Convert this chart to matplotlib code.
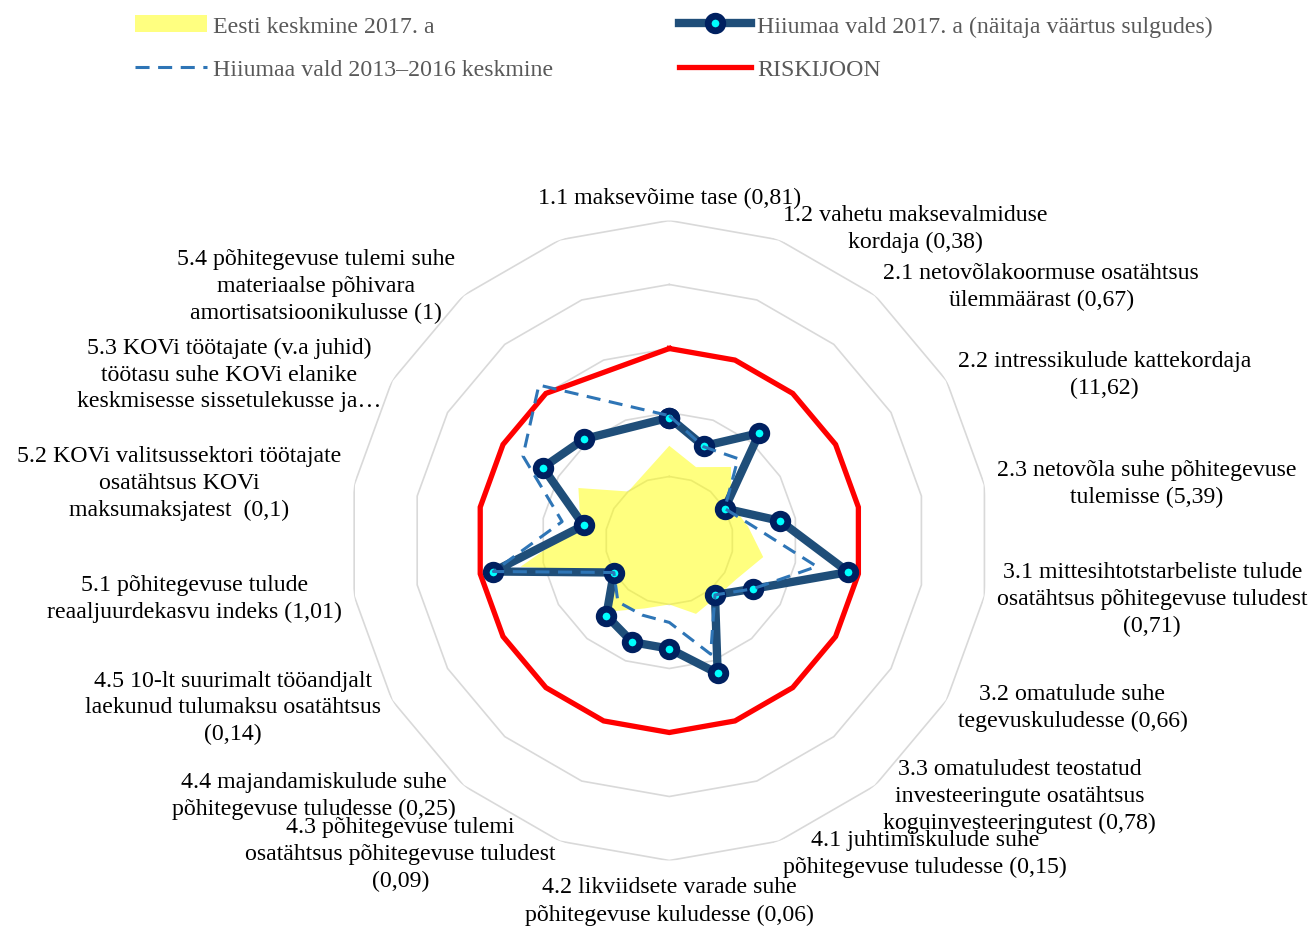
import numpy as np
import matplotlib
matplotlib.use("Agg")
import matplotlib.pyplot as plt
from matplotlib.lines import Line2D
from matplotlib.patches import Patch

categories = [
    "1.1 maksevõime tase (0,81)",
    "1.2 vahetu maksevalmiduse\nkordaja (0,38)",
    "2.1 netovõlakoormuse osatähtsus\nülemmäärast (0,67)",
    "2.2 intressikulude kattekordaja\n(11,62)",
    "2.3 netovõla suhe põhitegevuse\ntulemisse (5,39)",
    "3.1 mittesihtotstarbeliste tulude\nosatähtsus põhitegevuse tuludest\n(0,71)",
    "3.2 omatulude suhe\ntegevuskuludesse (0,66)",
    "3.3 omatuludest teostatud\ninvesteeringute osatähtsus\nkoguinvesteeringutest (0,78)",
    "4.1 juhtimiskulude suhe\npõhitegevuse tuludesse (0,15)",
    "4.2 likviidsete varade suhe\npõhitegevuse kuludesse (0,06)",
    "4.3 põhitegevuse tulemi\nosatähtsus põhitegevuse tuludest\n(0,09)",
    "4.4 majandamiskulude suhe\npõhitegevuse tuludesse (0,25)",
    "4.5 10-lt suurimalt tööandjalt\nlaekunud tulumaksu osatähtsus\n(0,14)",
    "5.1 põhitegevuse tulude\nreaaljuurdekasvu indeks (1,01)",
    "5.2 KOVi valitsussektori töötajate\nosatähtsus KOVi\nmaksumaksjatest  (0,1)",
    "5.3 KOVi töötajate (v.a juhid)\ntöötasu suhe KOVi elanike\nkeskmisesse sissetulekusse ja…",
    "5.4 põhitegevuse tulemi suhe\nmateriaalse põhivara\namortisatsioonikulusse (1)",
    "",
]

nan = np.nan
eesti_2017 = [1.48, 1.22, 1.50, 1.12, 1.25, 1.49, 1.21, 1.15, 1.22, 1.00,
              1.13, 1.45, 1.00, 2.36, 1.41, 1.64, 1.00, nan]
hiiumaa_2017 = [1.92, 1.57, 2.19, 1.00, 1.76, 2.84, 1.51, 1.11, 2.21, 1.69,
                1.69, 1.53, 1.00, 2.79, 1.36, 2.28, 2.07, nan]
hiiumaa_2013_2016 = [1.95, 1.56, 1.67, 1.00, 1.32, 2.34, 1.51, 1.11, 1.89, 1.28,
                     1.24, 1.25, 1.00, 2.79, 1.70, 2.64, 3.17, nan]
riskijoon = [3, 3, 3, 3, 3, 3, 3, 3, 3, 3, 3, 3, 3, 3, 3, 3, 3, nan]
grid_levels = [1, 2, 3, 4, 5]

series_labels = ["Eesti keskmine 2017. a",
                 "Hiiumaa vald 2017. a (näitaja väärtus sulgudes)",
                 "Hiiumaa vald 2013\u20132016 keskmine",
                 "RISKIJOON"]

plt.rcParams['font.family'] = ['Liberation Serif', 'DejaVu Serif']

W, H = 1313, 929
fig = plt.figure(figsize=(W / 100, H / 100), dpi=100)
cx, cy, R = 669.3, 541.5, 320.0
ax = fig.add_axes([(cx - R) / W, (H - cy - R) / H, 2 * R / W, 2 * R / H],
                  projection='polar')
ax.set_theta_zero_location('N')
ax.set_theta_direction(-1)
ax.set_ylim(0, 5)
ax.set_axis_off()

n = len(categories)
angles = np.arange(n) * 2 * np.pi / n


def closed(vals):
    v = np.asarray(vals, dtype=float)
    ok = ~np.isnan(v)
    th = angles[ok]
    rr = v[ok]
    return np.append(th, th[0]), np.append(rr, rr[0])


FS = 17.2
DARK_KW = dict(color='#1F4E79', lw=6.0, marker='o', markersize=10.5,
               markerfacecolor='#00FFFF', markeredgecolor='#002060',
               markeredgewidth=4.9)
DASH_KW = dict(color='#2E75B6', lw=2.2, dashes=(4.6, 2.8))

# grid rings
th_full = np.append(angles, angles[0])
for lv in grid_levels:
    ax.plot(th_full, [lv] * len(th_full), color='#D9D9D9', lw=1.2, zorder=1)

# yellow area
t, r = closed(eesti_2017)
ax.fill(t, r, color='#FFFF00', alpha=0.5, lw=0, zorder=2)

# risk line
t, r = closed(riskijoon)
ax.plot(t, r, color='#FF0000', lw=3.8, zorder=3, solid_joinstyle='miter')

# Hiiumaa 2017
t, r = closed(hiiumaa_2017)
ax.plot(t, r, zorder=4, **DARK_KW)

# Hiiumaa 2013-2016
t, r = closed(hiiumaa_2013_2016)
ax.plot(t, r, zorder=5, **DASH_KW)

# category labels
for ang, lab in zip(angles, categories):
    if not lab:
        continue
    deg = np.degrees(ang)
    rr = 5.2
    if np.isclose(deg, 0):
        ha, va = 'center', 'bottom'
    elif np.isclose(deg, 180):
        ha, va = 'center', 'top'
        rr = 5.25
    elif deg < 180:
        ha, va = 'left', 'center'
    else:
        ha, va = 'right', 'center'
    ax.text(ang, rr, lab, ha=ha, va=va, multialignment='center',
            fontsize=FS, color='black', linespacing=1.36, clip_on=False)

# legend
handles = [
    Patch(facecolor='#FFFF80', edgecolor='none'),
    Line2D([], [], **DASH_KW),
    Line2D([], [], **DARK_KW),
    Line2D([], [], color='#FF0000', lw=3.8),
]
labels = [series_labels[0], series_labels[2], series_labels[1], series_labels[3]]
leg = fig.legend(handles, labels, ncol=2, loc='upper left',
                 bbox_to_anchor=(135 / W, 1 - 16 / H), frameon=False,
                 fontsize=FS, handlelength=3.0, handletextpad=0.25,
                 columnspacing=5.3, labelspacing=0.9, borderpad=0,
                 borderaxespad=0)
for txt in leg.get_texts():
    txt.set_color('#595959')

fig.savefig('out.png', dpi=100)
